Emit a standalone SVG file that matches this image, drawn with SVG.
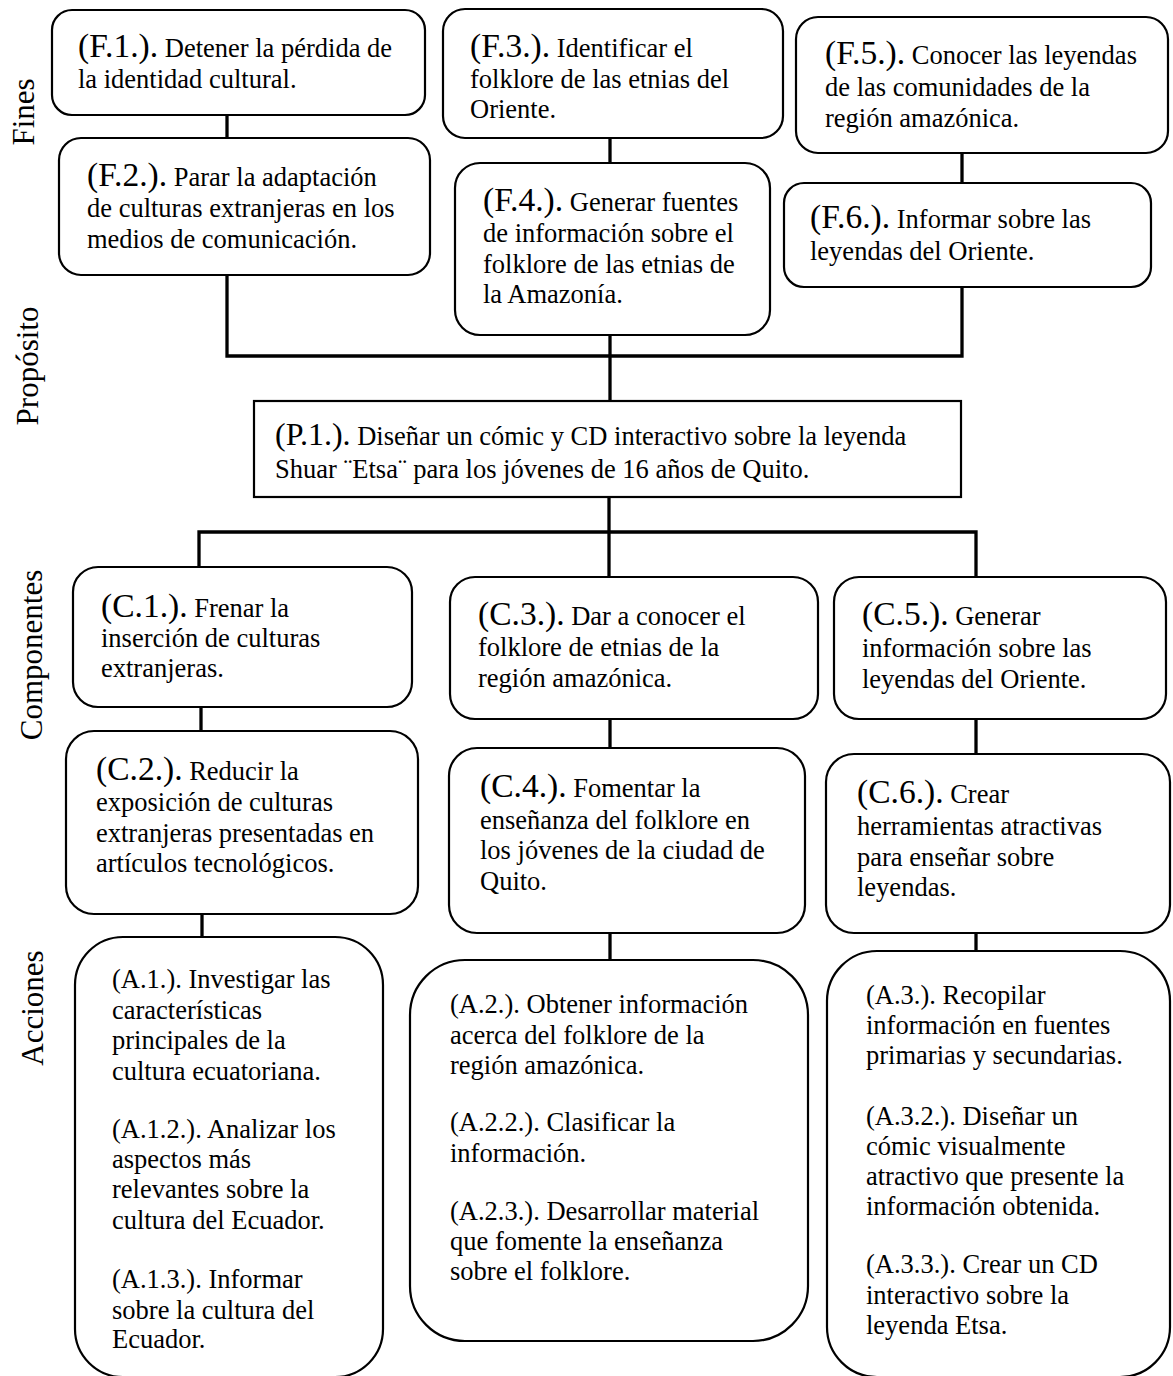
<svg xmlns="http://www.w3.org/2000/svg" width="1173" height="1376" viewBox="0 0 1173 1376">
  <style>
    text { font-family: "Liberation Serif", "Times New Roman", serif; font-size: 26.5px; fill: #000; }
    .code { font-size: 33.5px; }
    .codeP { font-size: 32px; }
    .axis { font-size: 31px; text-anchor: middle; }
    .box { fill: #fff; stroke: #000; stroke-width: 2.2; }
    .link { fill: none; stroke: #000; stroke-width: 3.3; stroke-linejoin: miter; stroke-linecap: butt; }
  </style>

  <rect width="1173" height="1376" fill="#fff"/>

  <!-- row labels -->
  <g id="labels">
    <text class="axis" transform="translate(34,112) rotate(-90)">Fines</text>
    <text class="axis" transform="translate(38,366) rotate(-90)">Propósito</text>
    <text class="axis" transform="translate(42,655) rotate(-90)">Componentes</text>
    <text class="axis" transform="translate(43,1008) rotate(-90)">Acciones</text>
  </g>

  <!-- connectors -->
  <g id="connectors">
    <path class="link" d="M227 115 V138"/>
    <path class="link" d="M610 138 V163"/>
    <path class="link" d="M962 153 V183"/>
    <path class="link" d="M227 275 V356 H962 V287"/>
    <path class="link" d="M610 335 V401"/>
    <path class="link" d="M609 497 V577"/>
    <path class="link" d="M199 567 V532 H976 V577"/>
    <path class="link" d="M201 707 V731"/>
    <path class="link" d="M202 914 V937"/>
    <path class="link" d="M610 719 V748"/>
    <path class="link" d="M610 933 V960"/>
    <path class="link" d="M976 719 V754"/>
    <path class="link" d="M976 933 V951"/>
  </g>

  <!-- Fines -->
  <g id="F1">
    <rect class="box" x="52" y="10" width="373" height="105" rx="20"/>
    <text x="78" y="57"><tspan class="code">(F.1.).</tspan> Detener la pérdida de</text>
    <text x="78" y="88">la identidad cultural.</text>
  </g>
  <g id="F2">
    <rect class="box" x="59" y="138" width="371" height="137" rx="22"/>
    <text x="87" y="186"><tspan class="code">(F.2.).</tspan> Parar la adaptación</text>
    <text x="87" y="217">de culturas extranjeras en los</text>
    <text x="87" y="248">medios de comunicación.</text>
  </g>
  <g id="F3">
    <rect class="box" x="443" y="9" width="340" height="129" rx="22"/>
    <text x="470" y="57"><tspan class="code">(F.3.).</tspan> Identificar el</text>
    <text x="470" y="88">folklore de las etnias del</text>
    <text x="470" y="118">Oriente.</text>
  </g>
  <g id="F4">
    <rect class="box" x="455" y="163" width="315" height="172" rx="25"/>
    <text x="483" y="211"><tspan class="code">(F.4.).</tspan> Generar fuentes</text>
    <text x="483" y="242">de información sobre el</text>
    <text x="483" y="273">folklore de las etnias de</text>
    <text x="483" y="303">la Amazonía.</text>
  </g>
  <g id="F5">
    <rect class="box" x="796" y="17" width="372" height="136" rx="22"/>
    <text x="825" y="64"><tspan class="code">(F.5.).</tspan> Conocer las leyendas</text>
    <text x="825" y="96">de las comunidades de la</text>
    <text x="825" y="127">región amazónica.</text>
  </g>
  <g id="F6">
    <rect class="box" x="784" y="183" width="367" height="104" rx="20"/>
    <text x="810" y="228"><tspan class="code">(F.6.).</tspan> Informar sobre las</text>
    <text x="810" y="260">leyendas del Oriente.</text>
  </g>

  <!-- Propósito -->
  <g id="P1">
    <rect class="box" x="254" y="401" width="707" height="96"/>
    <text x="275" y="445"><tspan class="codeP">(P.1.).</tspan> Diseñar un cómic y CD interactivo sobre la leyenda</text>
    <text x="275" y="478">Shuar ¨Etsa¨ para los jóvenes de 16 años de Quito.</text>
  </g>

  <!-- Componentes -->
  <g id="C1">
    <rect class="box" x="73" y="567" width="339" height="140" rx="25"/>
    <text x="101" y="617"><tspan class="code">(C.1.).</tspan> Frenar la</text>
    <text x="101" y="647">inserción de culturas</text>
    <text x="101" y="677">extranjeras.</text>
  </g>
  <g id="C2">
    <rect class="box" x="66" y="731" width="352" height="183" rx="28"/>
    <text x="96" y="780"><tspan class="code">(C.2.).</tspan> Reducir la</text>
    <text x="96" y="811">exposición de culturas</text>
    <text x="96" y="842">extranjeras presentadas en</text>
    <text x="96" y="872">artículos tecnológicos.</text>
  </g>
  <g id="C3">
    <rect class="box" x="450" y="577" width="368" height="142" rx="25"/>
    <text x="478" y="625"><tspan class="code">(C.3.).</tspan> Dar a conocer el</text>
    <text x="478" y="656">folklore de etnias de la</text>
    <text x="478" y="687">región amazónica.</text>
  </g>
  <g id="C4">
    <rect class="box" x="449" y="748" width="356" height="185" rx="28"/>
    <text x="480" y="797"><tspan class="code">(C.4.).</tspan> Fomentar la</text>
    <text x="480" y="829">enseñanza del folklore en</text>
    <text x="480" y="859">los jóvenes de la ciudad de</text>
    <text x="480" y="890">Quito.</text>
  </g>
  <g id="C5">
    <rect class="box" x="834" y="577" width="332" height="142" rx="25"/>
    <text x="862" y="625"><tspan class="code">(C.5.).</tspan> Generar</text>
    <text x="862" y="657">información sobre las</text>
    <text x="862" y="688">leyendas del Oriente.</text>
  </g>
  <g id="C6">
    <rect class="box" x="826" y="754" width="344" height="179" rx="28"/>
    <text x="857" y="803"><tspan class="code">(C.6.).</tspan> Crear</text>
    <text x="857" y="835">herramientas atractivas</text>
    <text x="857" y="866">para enseñar sobre</text>
    <text x="857" y="896">leyendas.</text>
  </g>

  <!-- Acciones -->
  <g id="A1">
    <rect class="box" x="75" y="937" width="308" height="440" rx="48"/>
    <text x="112" y="988">(A.1.). Investigar las</text>
    <text x="112" y="1019">características</text>
    <text x="112" y="1049">principales de la</text>
    <text x="112" y="1080">cultura ecuatoriana.</text>
    <text x="112" y="1138">(A.1.2.). Analizar los</text>
    <text x="112" y="1168">aspectos más</text>
    <text x="112" y="1198">relevantes sobre la</text>
    <text x="112" y="1229">cultura del Ecuador.</text>
    <text x="112" y="1288">(A.1.3.). Informar</text>
    <text x="112" y="1319">sobre la cultura del</text>
    <text x="112" y="1348">Ecuador.</text>
  </g>
  <g id="A2">
    <rect class="box" x="410" y="960" width="398" height="381" rx="55"/>
    <text x="450" y="1013">(A.2.). Obtener información</text>
    <text x="450" y="1044">acerca del folklore de la</text>
    <text x="450" y="1074">región amazónica.</text>
    <text x="450" y="1131">(A.2.2.). Clasificar la</text>
    <text x="450" y="1162">información.</text>
    <text x="450" y="1220">(A.2.3.). Desarrollar material</text>
    <text x="450" y="1250">que fomente la enseñanza</text>
    <text x="450" y="1280">sobre el folklore.</text>
  </g>
  <g id="A3">
    <rect class="box" x="827" y="951" width="343" height="426" rx="50"/>
    <text x="866" y="1004">(A.3.). Recopilar</text>
    <text x="866" y="1034">información en fuentes</text>
    <text x="866" y="1064">primarias y secundarias.</text>
    <text x="866" y="1125">(A.3.2.). Diseñar un</text>
    <text x="866" y="1155">cómic visualmente</text>
    <text x="866" y="1185">atractivo que presente la</text>
    <text x="866" y="1215">información obtenida.</text>
    <text x="866" y="1273">(A.3.3.). Crear un CD</text>
    <text x="866" y="1304">interactivo sobre la</text>
    <text x="866" y="1334">leyenda Etsa.</text>
  </g>
</svg>
